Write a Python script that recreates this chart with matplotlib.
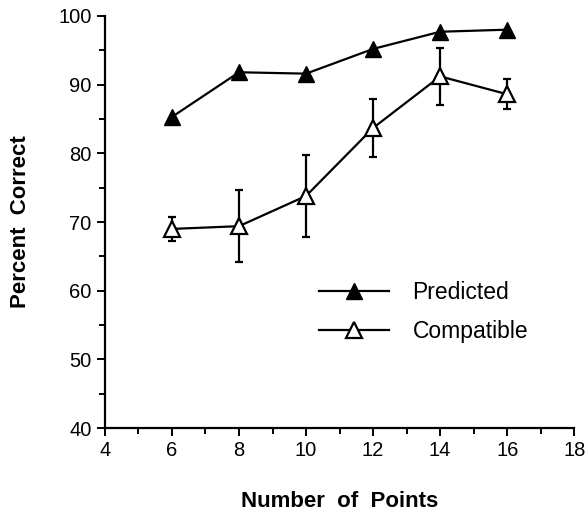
import matplotlib.pyplot as plt
from matplotlib.lines import Line2D
from matplotlib.ticker import MultipleLocator

plt.rcParams['font.family'] = ['Liberation Sans', 'DejaVu Sans']

points = [6, 8, 10, 12, 14, 16]
predicted = [85.3, 91.8, 91.6, 95.2, 97.7, 98.0]
compatible = [69.0, 69.4, 73.8, 83.7, 91.2, 88.6]
compatible_err = [1.7, 5.2, 6.0, 4.2, 4.2, 2.2]
series_names = ["Predicted", "Compatible"]

fig = plt.figure(figsize=(5.86, 5.14), dpi=100)
ax = fig.add_axes([0.179, 0.167, 0.801, 0.802])

ax.plot(points, predicted, color="black", lw=1.6, marker="^", ms=11,
        mfc="black", mec="black", clip_on=False)
ax.errorbar(points, compatible, yerr=compatible_err, color="black", lw=1.6,
            marker="^", ms=11, mfc="white", mec="black", mew=1.6,
            elinewidth=1.6, capsize=3, capthick=1.6)

ax.set_xlim(4, 18)
ax.set_ylim(40, 100)
ax.xaxis.set_major_locator(MultipleLocator(2))
ax.xaxis.set_minor_locator(MultipleLocator(1))
ax.yaxis.set_major_locator(MultipleLocator(10))
ax.yaxis.set_minor_locator(MultipleLocator(5))
ax.spines["top"].set_visible(False)
ax.spines["right"].set_visible(False)
ax.spines["left"].set_linewidth(1.6)
ax.spines["bottom"].set_linewidth(1.6)
ax.tick_params(which="both", direction="out", width=1.4, labelsize=14.5)
ax.tick_params(which="major", length=6)
ax.tick_params(which="minor", length=4)

ax.set_xlabel("Number  of  Points", fontsize=16, fontweight="bold", labelpad=22)
ax.set_ylabel("Percent  Correct", fontsize=16, fontweight="bold", labelpad=20)

# legend with plain line+marker handles (no error bars)
handles = [
    Line2D([], [], color="black", lw=1.6, marker="^", ms=11, mfc="black", mec="black"),
    Line2D([], [], color="black", lw=1.6, marker="^", ms=11, mfc="white", mec="black", mew=1.6),
]
ax.legend(handles, series_names, frameon=False, fontsize=16.5, handlelength=3.05,
          handletextpad=1.05, labelspacing=0.68, borderpad=0, numpoints=1,
          loc="center left", bbox_to_anchor=(0.431, 0.282))

fig.savefig("out.png", dpi=100)
